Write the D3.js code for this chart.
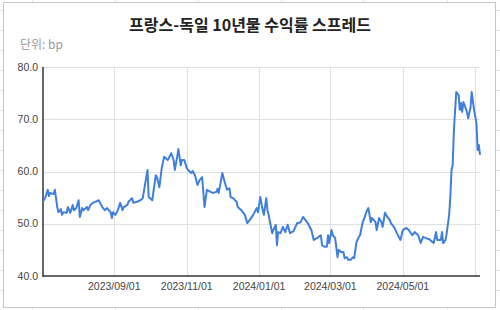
<!DOCTYPE html>
<html>
<head>
<meta charset="utf-8">
<script src="https://cdn.jsdelivr.net/npm/d3@7"></script>
<style>
  body { margin: 0; background: #fff; }
  svg { display: block; }
</style>
</head>
<body>
<div id="chart"></div>
<script>
// Data (bp)
const dates = [
  "2023-07-03","2023-07-05","2023-07-07","2023-07-08","2023-07-09","2023-07-12","2023-07-13","2023-07-15","2023-07-16","2023-07-18",
  "2023-07-19","2023-07-20","2023-07-23","2023-07-24","2023-07-26","2023-07-28","2023-07-29","2023-07-31","2023-08-02","2023-08-03",
  "2023-08-05","2023-08-06","2023-08-09","2023-08-10","2023-08-12","2023-08-14","2023-08-16","2023-08-19","2023-08-20","2023-08-22",
  "2023-08-24","2023-08-26","2023-08-29","2023-08-30","2023-08-31","2023-09-02","2023-09-04","2023-09-06","2023-09-08","2023-09-09",
  "2023-09-12","2023-09-13","2023-09-16","2023-09-17","2023-09-20","2023-09-23","2023-09-25","2023-09-29","2023-09-30","2023-10-03",
  "2023-10-06","2023-10-07","2023-10-09","2023-10-11","2023-10-13","2023-10-16","2023-10-17","2023-10-19","2023-10-21","2023-10-22",
  "2023-10-24","2023-10-25","2023-10-27","2023-10-28","2023-10-30","2023-11-01","2023-11-02","2023-11-05","2023-11-06","2023-11-08",
  "2023-11-10","2023-11-12","2023-11-14","2023-11-16","2023-11-18","2023-11-21","2023-11-23","2023-11-26","2023-11-27","2023-11-28",
  "2023-12-01","2023-12-03","2023-12-05","2023-12-07","2023-12-08","2023-12-10","2023-12-13","2023-12-14","2023-12-17","2023-12-20",
  "2023-12-22","2023-12-24","2023-12-27","2023-12-30","2023-12-31","2024-01-02","2024-01-04","2024-01-05","2024-01-07","2024-01-08",
  "2024-01-09","2024-01-12","2024-01-13","2024-01-15","2024-01-16","2024-01-17","2024-01-19","2024-01-21","2024-01-23","2024-01-25",
  "2024-01-27","2024-01-30","2024-02-02","2024-02-05","2024-02-07","2024-02-09","2024-02-11","2024-02-14","2024-02-16","2024-02-19",
  "2024-02-22","2024-02-23","2024-02-25","2024-02-27","2024-02-28","2024-02-29","2024-03-02","2024-03-03","2024-03-05","2024-03-07",
  "2024-03-08","2024-03-10","2024-03-12","2024-03-13","2024-03-15","2024-03-16","2024-03-18","2024-03-20","2024-03-21","2024-03-23",
  "2024-03-25","2024-03-26","2024-03-28","2024-03-30","2024-03-31","2024-04-02","2024-04-04","2024-04-05","2024-04-08","2024-04-09",
  "2024-04-11","2024-04-13","2024-04-14","2024-04-16","2024-04-18","2024-04-20","2024-04-21","2024-04-24","2024-04-26","2024-04-29",
  "2024-05-01","2024-05-04","2024-05-06","2024-05-09","2024-05-11","2024-05-12","2024-05-14","2024-05-16","2024-05-18","2024-05-20",
  "2024-05-22","2024-05-23","2024-05-26","2024-05-27","2024-05-29","2024-05-30","2024-06-02","2024-06-03","2024-06-04","2024-06-06",
  "2024-06-07","2024-06-09","2024-06-10","2024-06-11","2024-06-12","2024-06-13","2024-06-15","2024-06-17","2024-06-18","2024-06-19",
  "2024-06-20","2024-06-21","2024-06-22","2024-06-24","2024-06-25","2024-06-27","2024-06-28","2024-06-30","2024-07-02","2024-07-03",
  "2024-07-04","2024-07-05"
];
const spread = [
  54.2,55.1,56.5,55.3,55.9,55.7,56.5,53.2,52.2,52.8,
  51.7,52.2,52.1,53.2,52.1,53.6,52.6,53.0,54.5,51.3,
  53.0,52.6,53.2,52.6,53.6,54.0,54.2,54.5,54.0,53.2,
  52.6,53.0,52.2,51.1,52.2,51.7,52.6,54.0,52.6,53.2,
  53.6,54.2,54.9,54.0,54.2,54.5,54.9,60.3,55.1,54.5,
  59.3,58.9,57.0,60.7,62.8,62.2,62.6,63.5,62.2,60.3,
  62.8,64.3,61.2,62.2,62.2,60.7,60.3,59.7,60.1,59.3,
  57.4,58.4,58.9,53.2,56.5,56.1,55.9,56.1,56.7,55.9,
  59.7,58.0,56.5,56.8,55.1,54.9,54.2,53.2,52.6,51.7,
  50.1,50.7,51.7,53.0,52.2,55.1,52.6,51.7,54.9,52.6,
  51.7,48.2,48.8,49.8,45.9,48.4,48.2,49.4,48.4,49.8,
  48.2,48.6,50.1,50.3,51.3,50.7,50.1,48.8,46.9,47.3,
  47.8,45.9,45.6,45.6,47.8,46.3,48.8,47.8,47.3,43.6,
  45.0,44.6,44.6,43.4,43.6,43.1,43.1,43.6,43.4,46.5,
  47.5,47.8,50.1,51.3,52.1,53.0,50.3,51.1,50.3,48.8,
  51.1,50.3,49.4,52.1,51.3,50.7,50.1,49.2,48.2,46.9,
  48.8,49.2,48.8,47.8,48.4,48.2,47.8,46.3,47.5,47.3,
  47.1,47.1,46.5,46.3,48.4,46.9,46.9,48.4,46.3,46.9,
  48.2,51.7,55.1,60.3,61.2,67.9,75.2,74.6,71.8,73.1,
  71.4,73.3,72.7,71.4,70.2,72.2,75.2,71.8,69.3,64.1,
  65.1,63.2
];
const yTicks = [40, 50, 60, 70, 80];
const xTicks = ["2023-09-01", "2023-11-01", "2024-01-01", "2024-03-01", "2024-05-01", "2024-07-01"];
const xLabelled = 5; // last gridline has no label
const chartTitle = "프랑스-독일 10년물 수익률 스프레드";
const unitLabel = "단위: bp";

const W = 500, H = 310;
const plot = { left: 43, right: 480, top: 67, bottom: 276 };
const parse = d3.timeParse("%Y-%m-%d");
const fmt = d3.timeFormat("%Y/%m/%d");

const data = dates.map((d, i) => ({ date: parse(d), value: spread[i] }));

const svg = d3.select("#chart").append("svg")
    .attr("width", W)
    .attr("height", H);

// spreadsheet grid behind the chart card
const sheet = svg.append("g").attr("stroke", "#e3e3e3").attr("stroke-width", 1);
[32, 115, 198, 281, 363, 447].forEach(x => {
    sheet.append("line").attr("x1", x + 0.5).attr("x2", x + 0.5).attr("y1", 0).attr("y2", H);
});
d3.range(10, H, 20).forEach(y => {
    sheet.append("line").attr("x1", 0).attr("x2", W).attr("y1", y + 0.5).attr("y2", y + 0.5);
});

// card
svg.append("rect")
    .attr("x", 3.5).attr("y", 2.5)
    .attr("width", 492).attr("height", 305)
    .attr("fill", "#fff")
    .attr("stroke", "#c6c6c6");

svg.append("text")
    .attr("x", 250).attr("y", 31)
    .attr("text-anchor", "middle")
    .style("font", "bold 16px 'Noto Sans CJK KR', 'Noto Sans', sans-serif")
    .attr("fill", "#222")
    .text(chartTitle);

svg.append("text")
    .attr("x", 20).attr("y", 49)
    .style("font", "12px 'Noto Sans CJK KR', Roboto, sans-serif")
    .attr("fill", "#9a9a9a")
    .text(unitLabel);

// scales
const x = d3.scaleTime()
    .domain(d3.extent(data, d => d.date))
    .range([plot.left, plot.right]);
const y = d3.scaleLinear()
    .domain([40, 80])
    .range([plot.bottom, plot.top]);

// gridlines
const grid = svg.append("g").attr("stroke", "#e0e0e0").attr("stroke-width", 1);
yTicks.slice(1).forEach(t => {
    grid.append("line")
        .attr("x1", plot.left).attr("x2", plot.right)
        .attr("y1", Math.round(y(t)) + 0.5).attr("y2", Math.round(y(t)) + 0.5);
});
xTicks.forEach(t => {
    const px = Math.round(x(parse(t))) + 0.5;
    grid.append("line")
        .attr("x1", px).attr("x2", px)
        .attr("y1", plot.top).attr("y2", plot.bottom);
});

// y labels
svg.append("g")
    .style("font", "10.5px 'Liberation Sans', Arial, sans-serif")
    .attr("fill", "#444")
    .selectAll("text")
    .data(yTicks)
    .join("text")
    .attr("x", 38)
    .attr("y", d => y(d))
    .attr("dy", "0.35em")
    .attr("text-anchor", "end")
    .text(d => d.toFixed(1));

// x labels
svg.append("g")
    .style("font", "10.5px 'Liberation Sans', Arial, sans-serif")
    .attr("fill", "#444")
    .selectAll("text")
    .data(xTicks.slice(0, xLabelled))
    .join("text")
    .attr("x", d => x(parse(d)))
    .attr("y", 290)
    .attr("text-anchor", "middle")
    .text(d => fmt(parse(d)));

// axis lines
svg.append("line")
    .attr("x1", plot.left).attr("x2", plot.left)
    .attr("y1", plot.top).attr("y2", plot.bottom + 1)
    .attr("stroke", "#333").attr("stroke-width", 1.5);
svg.append("line")
    .attr("x1", plot.left).attr("x2", plot.right)
    .attr("y1", plot.bottom).attr("y2", plot.bottom)
    .attr("stroke", "#333").attr("stroke-width", 1.5);

// series
const line = d3.line()
    .x(d => x(d.date))
    .y(d => y(d.value));

svg.append("path")
    .datum(data)
    .attr("fill", "none")
    .attr("stroke", "#3f7fdc")
    .attr("stroke-width", 2)
    .attr("stroke-linejoin", "round")
    .attr("d", line);
</script>
</body>
</html>
